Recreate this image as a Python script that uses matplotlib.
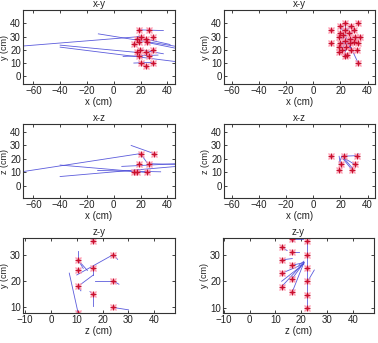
import matplotlib
matplotlib.use("Agg")
import matplotlib.pyplot as plt
import numpy as np

# ---------------- data ----------------
# Panel 1: x-y (left)
p1_x = [19, 26, 20, 29, 17, 24, 15, 19, 25, 17.5, 19.5, 29, 24, 19, 26, 20, 29.5, 24]
p1_y = [35, 35, 30, 30, 28, 28, 24.5, 25.5, 25.5, 18, 20, 20, 18, 15, 15, 10, 10, 8]
p1_x1 = [20, -11.5, 19, -40, -40, 7, 25, 24, 15, 20]
p1_y1 = [30, 32, 35, 23.5, 22, 15, 25.5, 28, 10, 20]
p1_x2 = [-72, 47, 37, 17.5, 47, 33, 47, 42, 28, 37]
p1_y2 = [22.5, 22.5, 34.5, 18, 11, 16, 21, 24, 10.5, 17]

# Panel 2: x-y (right)
p2_x = [13, 13, 20, 23, 28, 33, 20, 23, 26, 30, 19, 22, 27, 31, 34, 20, 23, 27, 30, 33,
        19, 21, 24, 28, 32, 19, 23, 25, 33]
p2_y = [35, 25, 38, 40, 38, 40, 33, 35, 33, 35, 30, 31, 28, 30, 30, 25, 27, 25, 26, 25,
        22, 20, 22, 20, 20, 18, 15, 16, 10]
p2_x1 = [20, 23, 28, 20, 23, 30, 19, 22, 31, 20, 27, 30, 21, 24, 28, 19, 23, 24, 25]
p2_y1 = [38, 40, 38, 33, 35, 35, 30, 31, 30, 25, 25, 26, 20, 22, 20, 18, 15, 30, 26]
p2_x2 = [22, 24, 25, 23, 24, 27, 23, 24, 27, 23, 25, 27, 23, 24, 25, 21, 24, 33, 30]
p2_y2 = [33, 36, 35, 30, 31, 31, 27, 28, 28, 26, 26, 27, 25, 26, 25, 24, 22, 10, 17]

# Panel 3: x-z (left)
p3_x = [20, 30, 19, 26, 15, 17.5, 24.5]
p3_z = [24, 24, 16, 16, 10, 10, 10]
p3_x1 = [20, 13, -40, -40, -12, 6, 26, 20]
p3_z1 = [24, 30, 7, 15.5, 11.5, 14.5, 16.5, 24]
p3_x2 = [-72, 30, 47, 24.5, 35, 47, 47, 25]
p3_z2 = [10, 24, 14.5, 10, 10.5, 16.5, 16, 17]

# Panel 4: x-z (right)
p4_x = [13, 22.5, 32.5, 20.5, 30.5, 19, 28.5]
p4_z = [22, 22, 22, 16, 16, 12, 12]
p4_x1 = [21, 21, 22, 22, 23, 33, 19]
p4_z1 = [22, 22, 20, 21, 20, 24, 22]
p4_x2 = [33, 19, 28.5, 30.5, 29, 32, 20]
p4_z2 = [22.5, 17, 12, 16, 13, 22, 16]

# Panel 5: z-y (left)
p5_z = [16.4, 24.1, 10.5, 10.5, 16.4, 24.1, 10.5, 16.4, 24.1, 10.5]
p5_y = [35, 30, 28, 24, 25, 20, 18, 15, 10, 8]
p5_z1 = [15.8, 24.1, 24.1, 10.5, 10.5, 10.5, 16.4, 10.5, 10.5, 17, 24.1, 15.1, 16.4, 24.1, 7.1]
p5_y1 = [36.5, 30, 30, 28, 28, 28, 25, 18, 18, 20, 20, 16, 15, 10, 23]
p5_z2 = [16.4, 10, 25.8, 10.5, 14.1, 12.5, 16.4, 16.4, 11.6, 24.1, 26.3, 16.4, 16.4, 30, 10.5]
p5_y2 = [35, 22.3, 28.2, 31.4, 24, 24.8, 22.3, 22.3, 16.3, 20, 18.8, 15, 10.6, 9.1, 8]

# Panel 6: z-y (right)
p6_z = [22, 22, 22, 22, 22, 22, 16.5, 16.5, 16.5, 16.5, 16.5, 12.4, 12.4, 12.4, 12.4]
p6_y = [35, 30, 25, 20, 15, 10, 36, 31, 26, 21, 16, 32.8, 28, 23, 18]
p6_z1 = [22, 12.4, 16.5, 16.5, 12.4, 16.5, 12.4, 16.5, 12.4, 16.5, 15.5, 22.3, 19, 12.4]
p6_y1 = [36.5, 18, 16, 21, 23, 26, 32.8, 31, 28, 36, 36.5, 19.7, 26, 20]
p6_z2 = [22, 21, 21, 21, 21, 21, 14.5, 19, 16.5, 20.5, 17, 25, 21, 21]
p6_y2 = [10, 27, 27, 27, 26.5, 27, 31.5, 31, 28.5, 36, 35, 24.2, 27.5, 26.5]

panels = [
    dict(pos=[23, 10, 175, 84], xlim=(-67.7, 45.7), ylim=(-5.8, 50), xt=[-60, -40, -20, 0, 20, 40],
         yt=[0, 10, 20, 30, 40], title="x-y", xl="x (cm)", yl="y (cm)",
         px=p1_x, py=p1_y, sx1=p1_x1, sy1=p1_y1, sx2=p1_x2, sy2=p1_y2),
    dict(pos=[224, 10, 375, 84], xlim=(-65.7, 45.4), ylim=(-5.8, 50), xt=[-60, -40, -20, 0, 20, 40],
         yt=[0, 10, 20, 30, 40], title="x-y", xl="x (cm)", yl="y (cm)",
         px=p2_x, py=p2_y, sx1=p2_x1, sy1=p2_y1, sx2=p2_x2, sy2=p2_y2),
    dict(pos=[23, 124, 175, 198], xlim=(-67.7, 45.7), ylim=(-8.9, 45.9), xt=[-60, -40, -20, 0, 20, 40],
         yt=[0, 10, 20, 30, 40], title="x-z", xl="x (cm)", yl="z (cm)",
         px=p3_x, py=p3_z, sx1=p3_x1, sy1=p3_z1, sx2=p3_x2, sy2=p3_z2),
    dict(pos=[224, 124, 375, 198], xlim=(-65.7, 45.4), ylim=(-8.9, 45.9), xt=[-60, -40, -20, 0, 20, 40],
         yt=[0, 10, 20, 30, 40], title="x-z", xl="x (cm)", yl="z (cm)",
         px=p4_x, py=p4_z, sx1=p4_x1, sy1=p4_z1, sx2=p4_x2, sy2=p4_z2),
    dict(pos=[23, 238, 175, 313], xlim=(-10.8, 48), ylim=(7.9, 36.3), xt=[-10, 0, 10, 20, 30, 40],
         yt=[10, 20, 30], title="z-y", xl="z (cm)", yl="y (cm)",
         px=p5_z, py=p5_y, sx1=p5_z1, sy1=p5_y1, sx2=p5_z2, sy2=p5_y2),
    dict(pos=[223, 238, 374, 313], xlim=(-10.3, 48.1), ylim=(8.1, 36.2), xt=[-10, 0, 10, 20, 30, 40],
         yt=[10, 20, 30], title="z-y", xl="z (cm)", yl="y (cm)",
         px=p6_z, py=p6_y, sx1=p6_z1, sy1=p6_y1, sx2=p6_z2, sy2=p6_y2),
]

W, H = 378, 343
fig = plt.figure(figsize=(W / 100, H / 100), dpi=100)
plt.rcParams['font.family'] = ['Liberation Sans', 'DejaVu Sans']

for p in panels:
    l, t, r, b = p["pos"]
    ax = fig.add_axes([l / W, 1 - b / H, (r - l) / W, (b - t) / H])
    for x1, y1, x2, y2 in zip(p["sx1"], p["sy1"], p["sx2"], p["sy2"]):
        ax.plot([x1, x2], [y1, y2], color="#4a4ad8", lw=0.6, alpha=0.9)
    ax.plot(p["px"], p["py"], linestyle="none", marker="x", ms=4.5, mew=1.0, color="#ff9ab0")
    ax.plot(p["px"], p["py"], linestyle="none", marker="+", ms=5, mew=1.0, color="#c8102e")
    ax.set_xlim(*p["xlim"])
    ax.set_ylim(*p["ylim"])
    ax.set_xticks(p["xt"])
    ax.set_yticks(p["yt"])
    ax.tick_params(direction="in", length=2, width=0.6, labelsize=7, pad=1.5,
                   top=True, right=True, colors="#222222")
    for s in ax.spines.values():
        s.set_linewidth(0.8)
        s.set_color("#333333")
    ax.set_title(p["title"], fontsize=7, pad=2, color="#222222")
    ax.set_xlabel(p["xl"], fontsize=7, labelpad=1, color="#222222")
    ax.set_ylabel(p["yl"], fontsize=6.5, labelpad=0.5, color="#222222")

fig.savefig("out.png", dpi=100)
